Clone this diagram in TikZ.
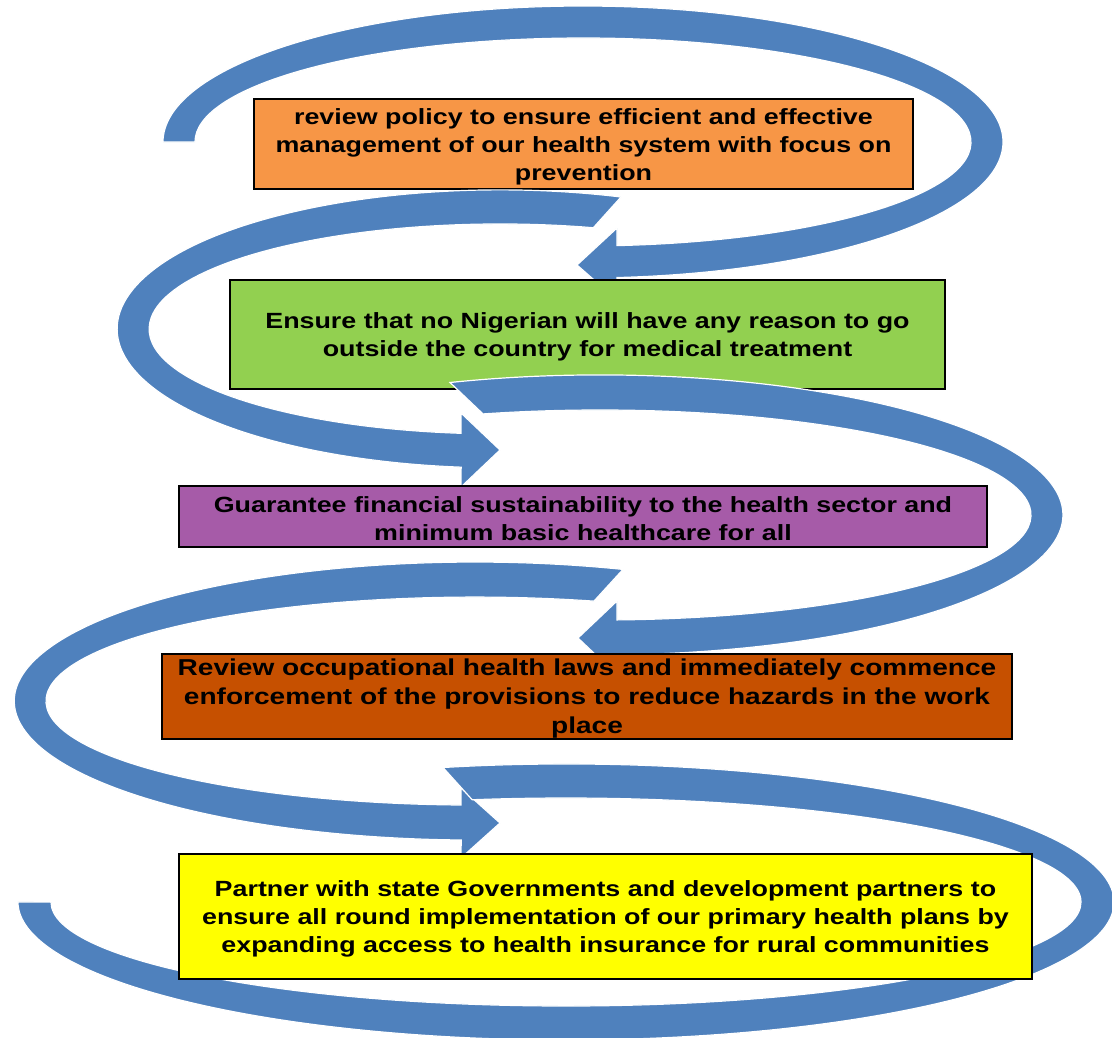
\documentclass[tikz,border=0pt]{standalone}
\usepackage{fontspec}
\setmainfont{Liberation Sans}[FakeStretch=1.22]
\definecolor{arrowblue}{HTML}{4F81BD}
\definecolor{boxorange}{HTML}{F79646}
\definecolor{boxgreen}{HTML}{92D050}
\definecolor{boxpurple}{RGB}{166,91,168}
\definecolor{boxrust}{RGB}{198,80,0}
\definecolor{boxyellow}{HTML}{FFFF00}
\tikzset{
  stepbox/.style={draw=black, line width=1.5pt, inner sep=0pt},
  steptext/.style={inner sep=0pt, align=center, yshift=-2.5pt,
    font=\fontsize{22}{28}\selectfont\bfseries},
  bandarrow/.style={fill=arrowblue, draw=white, line width=1.2pt, line join=miter}
}
\begin{document}
\begin{tikzpicture}[x=1pt,y=1pt]
\useasboundingbox (0,0) rectangle (1112,-1037);
\clip (0,0) rectangle (1112,-1037);
\fill[white] (0,0) rectangle (1112,-1037);

% box 1
\node[stepbox, fill=boxorange, minimum width=659pt, minimum height=90pt] (b1) at (583.5,-144) {};
\node[steptext] (t1) at (b1.center)
  {review policy to ensure efficient and effective\\management of our health system with focus on\\prevention};

% arrow 1
\path[bandarrow] (195,-142) -- (163,-142)
  arc[start angle=180, end angle=-85.36, x radius=420, y radius=136]
  -- (617,-300) -- (577,-265) -- (617,-228) -- (617,-245.6)
  arc[start angle=-84.97, end angle=180, x radius=388, y radius=104] -- cycle;

% arrow 2
\path[bandarrow] (621,-197)
  arc[start angle=71.6, end angle=264.16, x radius=383, y radius=139]
  -- (461,-487) -- (500,-450) -- (461,-413) -- (461,-433.3)
  arc[start angle=263.6, end angle=74.6, x radius=351, y radius=105] -- cycle;

% box 2
\node[stepbox, fill=boxgreen, minimum width=715pt, minimum height=109pt] (b2) at (587.5,-334.5) {};
\node[steptext] (t2) at (b2.center)
  {Ensure that no Nigerian will have any reason to go\\outside the country for medical treatment};

% arrow 3
\path[bandarrow] (450,-382.5)
  arc[start angle=108.9, end angle=-87.9, x radius=463, y radius=140]
  -- (617,-675) -- (578,-638) -- (617,-601) -- (617,-619.9)
  arc[start angle=-87.74, end angle=105.75, x radius=431, y radius=105] -- cycle;

% arrow 4
\path[bandarrow] (623,-569.4)
  arc[start angle=71.3, end angle=268.26, x radius=461, y radius=139]
  -- (461,-858) -- (500,-823) -- (461,-788) -- (461,-805)
  arc[start angle=268.13, end angle=73.9, x radius=429, y radius=104] -- cycle;

% box 3
\node[stepbox, fill=boxpurple, minimum width=808pt, minimum height=61pt] (b3) at (583,-516.5) {};
\node[steptext] (t3) at (b3.center)
  {Guarantee financial sustainability to the health sector and\\minimum basic healthcare for all};

% box 4
\node[stepbox, fill=boxrust, minimum width=850pt, minimum height=85pt] (b4) at (587,-696.5) {};
\node[steptext, font=\fontsize{23}{29}\selectfont\bfseries] (t4) at (b4.center)
  {Review occupational health laws and immediately commence\\enforcement of the provisions to reduce hazards in the work\\place};

% arrow 5
\path[bandarrow] (443,-767.5)
  arc[start angle=102.97, end angle=-180, x radius=548, y radius=138]
  -- (51,-902)
  arc[start angle=-180, end angle=100.5, x radius=515, y radius=104] -- cycle;

% box 5
\node[stepbox, fill=boxyellow, minimum width=853pt, minimum height=125pt] (b5) at (605.5,-916.5) {};
\node[steptext] (t5) at (b5.center)
  {Partner with state Governments and development partners to\\ensure all round implementation of our primary health plans by\\expanding access to health insurance for rural communities};
\end{tikzpicture}
\end{document}
